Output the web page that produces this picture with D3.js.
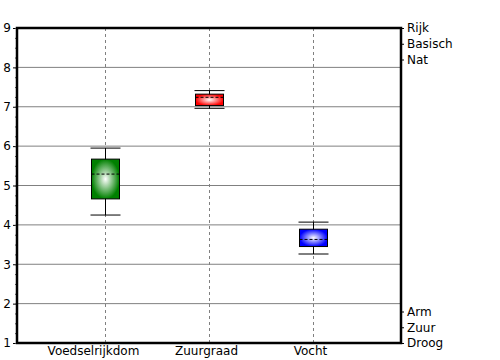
<!DOCTYPE html>
<html>
<head>
<meta charset="utf-8">
<script src="https://cdn.jsdelivr.net/npm/d3@7"></script>
<style>
  body { margin: 0; background: #fff; }
  svg { display: block; font-family: "DejaVu Sans", sans-serif; font-size: 12px; }
</style>
</head>
<body>
<svg id="chart" width="500" height="360"></svg>
<script>
"use strict";

// values
const categories = ["Voedselrijkdom", "Zuurgraad", "Vocht"];
const whiskerLow = [4.25, 6.96, 3.26];
const q1 = [4.66, 7.03, 3.45];
const median = [5.29, 7.24, 3.63];
const q3 = [5.67, 7.32, 3.89];
const whiskerHigh = [5.95, 7.41, 4.07];
const boxColors = ["#008000", "#ff0000", "#0000ff"];

const yTicks = [1, 2, 3, 4, 5, 6, 7, 8, 9];
const rightLabels = ["Rijk", "Basisch", "Nat", "Arm", "Zuur", "Droog"];
const rightValues = [9, 8.6, 8.2, 1.8, 1.4, 1.0];

const svg = d3.select("#chart");
const plotLeft = 17, plotRight = 401, plotTop = 28, plotBottom = 343;

const x = d3.scalePoint().domain(categories).range([plotLeft, plotRight]).padding(0.846);
const y = d3.scaleLinear().domain([1, 9]).range([plotBottom, plotTop]);
const boxW = 28, capW = 30;

const boxes = categories.map((c, i) => ({
  name: c, lo: whiskerLow[i], q1: q1[i], med: median[i], q3: q3[i], hi: whiskerHigh[i], color: boxColors[i]
}));

// gradients
const defs = svg.append("defs");
boxes.forEach((b, i) => {
  const g = defs.append("radialGradient").attr("id", "grad" + i)
    .attr("cx", "50%").attr("cy", "50%").attr("r", "50%");
  g.append("stop").attr("offset", "0%").attr("stop-color", "#fff");
  g.append("stop").attr("offset", "100%").attr("stop-color", b.color);
});

// horizontal grid
svg.append("g")
  .selectAll("line")
  .data(yTicks.filter((t) => t > 1 && t < 9))
  .enter()
  .append("line")
  .attr("x1", plotLeft).attr("x2", plotRight)
  .attr("y1", (d) => y(d)).attr("y2", (d) => y(d))
  .attr("stroke", "#808080").attr("stroke-width", 1);

// vertical dashed grid
svg.append("g")
  .selectAll("line")
  .data(categories)
  .enter()
  .append("line")
  .attr("x1", (d) => Math.round(x(d)) + 0.5).attr("x2", (d) => Math.round(x(d)) + 0.5)
  .attr("y1", plotTop).attr("y2", plotBottom)
  .attr("stroke", "#808080").attr("stroke-dasharray", "3,3");

// left axis
const leftAxis = d3.axisLeft(y).tickValues(yTicks).tickSize(4).tickPadding(2).tickFormat(d3.format("d"));
const gl = svg.append("g").attr("transform", `translate(${plotLeft},0)`).call(leftAxis);
gl.select(".domain").remove();
gl.selectAll("text").style("font-size", "12px").style("font-family", "DejaVu Sans").attr("fill", "#000");

const minorLeft = d3.axisLeft(y).tickValues(d3.range(1, 9.01, 0.25)).tickSize(2).tickFormat("");
const gml = svg.append("g").attr("transform", `translate(${plotLeft},0)`).call(minorLeft);
gml.select(".domain").remove();
gml.selectAll("line").attr("stroke", "#555");

// right axis
const rightAxis = d3.axisRight(y).tickValues(rightValues).tickSize(3).tickPadding(3)
  .tickFormat((d, i) => rightLabels[i]);
const gr = svg.append("g").attr("transform", `translate(${plotRight},0)`).call(rightAxis);
gr.select(".domain").remove();
gr.selectAll("text").style("font-size", "12px").style("font-family", "DejaVu Sans").attr("fill", "#000");

const minorRight = d3.axisRight(y).tickValues(d3.range(1, 9.01, 0.25)).tickSize(2).tickFormat("");
const gmr = svg.append("g").attr("transform", `translate(${plotRight - 1},0)`).call(minorRight);
gmr.select(".domain").remove();
gmr.selectAll("line").attr("stroke", "#555");

// bottom category labels
const bottomAxis = d3.axisBottom(x).tickSize(0).tickPadding(3);
const gb = svg.append("g").attr("transform", `translate(0,${plotBottom})`).call(bottomAxis);
gb.select(".domain").remove();
gb.selectAll("text").style("font-size", "12px").style("font-family", "DejaVu Sans").attr("fill", "#000")
  .attr("dx", (d, i) => (i === 0 ? -12 : -3));

// boxes
const bg = svg.append("g")
  .selectAll("g")
  .data(boxes)
  .enter()
  .append("g")
  .attr("transform", (b) => `translate(${Math.round(x(b.name)) + 0.5},0)`);

bg.append("line")
  .attr("x1", 0).attr("x2", 0)
  .attr("y1", (b) => y(b.hi)).attr("y2", (b) => y(b.lo))
  .attr("stroke", "#000");

bg.append("line")
  .attr("x1", -capW / 2).attr("x2", capW / 2)
  .attr("y1", (b) => y(b.hi)).attr("y2", (b) => y(b.hi))
  .attr("stroke", "#000");

bg.append("line")
  .attr("x1", -capW / 2).attr("x2", capW / 2)
  .attr("y1", (b) => y(b.lo)).attr("y2", (b) => y(b.lo))
  .attr("stroke", "#000");

bg.append("rect")
  .attr("x", -boxW / 2)
  .attr("width", boxW)
  .attr("y", (b) => y(b.q3))
  .attr("height", (b) => y(b.q1) - y(b.q3))
  .attr("fill", (b, i) => `url(#grad${i})`)
  .attr("stroke", "#000");

bg.append("line")
  .attr("x1", -boxW / 2).attr("x2", boxW / 2)
  .attr("y1", (b) => y(b.med)).attr("y2", (b) => y(b.med))
  .attr("stroke", "#000").attr("stroke-dasharray", "3,2");

// frame
svg.append("rect")
  .attr("x", plotLeft).attr("y", plotTop)
  .attr("width", plotRight - plotLeft).attr("height", plotBottom - plotTop)
  .attr("fill", "none").attr("stroke", "#000").attr("stroke-width", 2.5);
</script>
</body>
</html>
